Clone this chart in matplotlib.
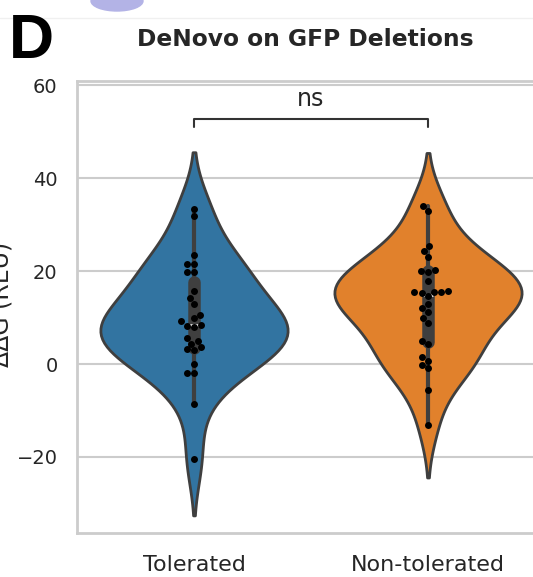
import matplotlib
matplotlib.use("Agg")
import pandas as pd
import matplotlib.pyplot as plt
import seaborn as sns
from matplotlib.patches import Ellipse
from matplotlib.lines import Line2D

# values
groups = ["Tolerated", "Non-tolerated"]
tolerated = [33.4, 31.9, 23.4, 21.6, 21.6, 19.8, 19.8, 15.7, 14.1, 12.9, 10.6, 9.9,
             9.2, 8.3, 8.2, 8.0, 5.6, 5.0, 4.4, 3.6, 3.2, 3.0, 0.0, -1.9, -2.0,
             -8.6, -20.4]
non_tolerated = [34.1, 33.0, 25.3, 24.3, 23.1, 20.3, 20.1, 19.9, 17.9, 15.8, 15.5,
                 15.4, 15.4, 15.3, 14.6, 13.0, 12.0, 11.2, 10.0, 8.9, 5.0, 4.3,
                 1.6, 0.7, -0.2, -0.9, -5.6, -13.1]
colors = ["#3274a1", "#e1812c"]
y_ticks = [-20, 0, 20, 40, 60]
sig_label = "ns"

df = pd.DataFrame({
    "group": [groups[0]] * len(tolerated) + [groups[1]] * len(non_tolerated),
    "ddg": tolerated + non_tolerated,
})

sns.set_theme(style="whitegrid")

W, H = 533, 577
fig = plt.figure(figsize=(W / 100, H / 100), dpi=100)
ax = fig.add_axes([77 / W, 1 - 532.7 / H, 468 / W, (532.7 - 81) / H])

sns.violinplot(data=df, x="group", y="ddg", hue="group", palette=colors,
               saturation=1, inner="box", linewidth=2, linecolor="#3f3f3f",
               legend=False, ax=ax)
sns.swarmplot(data=df, x="group", y="ddg", color="black", size=5, ax=ax)

ax.set_xlim(-0.5, 1.5)
ax.set_ylim(-36.3, 60.9)
ax.set_yticks(y_ticks)
ax.set_xlabel("")
ax.set_ylabel("")
ax.xaxis.grid(False)
ax.yaxis.grid(True, color=".8", lw=1.5)
for s in ax.spines.values():
    s.set_color(".8")
    s.set_linewidth(2)
ax.tick_params(axis="y", length=0, pad=14, labelsize=14, labelcolor=".15")
ax.tick_params(axis="x", length=0, pad=16, labelsize=16, labelcolor=".15")

# significance bracket
ax.plot([0, 0, 1, 1], [51.0, 52.7, 52.7, 51.0], color="#333333", lw=1.5)
ax.text(0.5, 54.5, sig_label, ha="center", va="bottom", fontsize=17, color=".15")

fig.text(305 / W, 1 - 39 / H, "DeNovo on GFP Deletions", ha="center", va="center",
         fontsize=16.8, fontweight="bold", color=".15")
fig.text(14 / W, 1 - 304 / H, "ΔΔG (REU)", rotation=90, ha="right", va="center",
         fontsize=17, color=".15")
fig.text(9 / W, 1 - 58 / H, "D", fontsize=45, fontweight="bold",
         family="Liberation Sans", ha="left", va="baseline", color="black")

# bits of the neighbouring panel visible at the top of the crop
fig.add_artist(Line2D([0, 1], [1 - 18 / H] * 2, color="#f0f0f0", lw=1))
fig.add_artist(Ellipse((117 / W, 1 - 1 / H), 52 / W, 20 / H, color="#b3b3e6",
                       transform=fig.transFigure))

fig.savefig("out.png", dpi=100)
